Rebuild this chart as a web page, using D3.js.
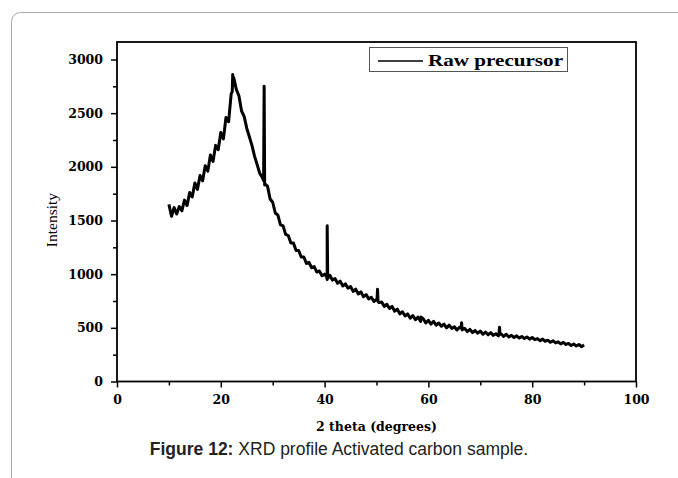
<!DOCTYPE html>
<html>
<head>
<meta charset="utf-8">
<script src="https://cdn.jsdelivr.net/npm/d3@7"></script>
<style>
  body { margin: 0; background: #fff; }
  svg { display: block; }
</style>
</head>
<body>
<svg id="chart" width="678" height="478"></svg>
<script>
// scan grid 10..90 deg, 0.5 deg step
var scanStart = 10, scanStep = 0.5;
var scanIntensity = [
  1650, 1540, 1620, 1560, 1630, 1590, 1690, 1640, 1760, 1720,
  1850, 1790, 1920, 1870, 2010, 1960, 2110, 2050, 2200, 2160,
  2320, 2260, 2460, 2420, 2680, 2830, 2720, 2660, 2520, 2470,
  2360, 2280, 2200, 2100, 2020, 1940, 1900, 1840, 1820, 1700,
  1670, 1570, 1550, 1460, 1450, 1370, 1360, 1290, 1290, 1220,
  1220, 1160, 1160, 1100, 1110, 1060, 1070, 1020, 1030, 985,
  1000, 950, 990, 945, 960, 915, 935, 890, 910, 870,
  885, 840, 860, 815, 835, 790, 810, 770, 785, 745,
  765, 735, 740, 700, 720, 680, 700, 655, 675, 630,
  650, 610, 630, 590, 615, 575, 600, 560, 585, 545,
  570, 535, 560, 525, 545, 515, 535, 500, 525, 495,
  510, 480, 505, 480, 495, 465, 485, 455, 475, 450,
  470, 440, 460, 435, 455, 430, 445, 425, 445, 420,
  440, 415, 430, 410, 425, 405, 420, 400, 415, 395,
  410, 390, 400, 380, 395, 375, 385, 365, 380, 360,
  370, 350, 365, 345, 355, 335, 350, 330, 345, 325,
  340
];

// sharp reflections (angle, intensity)
var peakAngles = [22.2, 22.3, 22.4, 28.25, 28.35, 28.45, 40.4, 40.5, 40.6,
                  50.1, 50.2, 50.3, 58.6, 66.3, 66.4, 66.5, 73.6, 73.7, 73.8];
var peakIntensity = [2700, 2860, 2760, 1870, 2750, 1830, 975, 1450, 960,
                     760, 860, 745, 600, 500, 548, 490, 445, 505, 440];

var xTicks = [0, 20, 40, 60, 80, 100];
var yTicks = [0, 500, 1000, 1500, 2000, 2500, 3000];
var seriesName = "Raw precursor";

var points = scanIntensity.map(function (v, i) {
  return { a: scanStart + i * scanStep, v: v };
});
peakAngles.forEach(function (a, i) {
  points.push({ a: a, v: peakIntensity[i] });
});
points.sort(function (p, q) { return p.a - q.a; });

var svg = d3.select("#chart");
var plotLeft = 117, plotRight = 636, plotTop = 42, plotBottom = 381.5;

var x = d3.scaleLinear().domain([0, 100]).range([plotLeft, plotRight]);
var y = d3.scaleLinear().domain([0, 3000]).range([plotBottom, 59.5]);

// outer page frame
svg.append("rect")
  .attr("x", 11.5).attr("y", 12.5)
  .attr("width", 700).attr("height", 500)
  .attr("rx", 9)
  .attr("fill", "none")
  .attr("stroke", "#a8a8a8")
  .attr("stroke-width", 1);

var tickFont = "'DejaVu Serif', serif";

// minor ticks
svg.append("g")
  .attr("transform", "translate(0," + plotBottom + ")")
  .call(d3.axisBottom(x).tickValues(d3.range(10, 100, 20)).tickSize(4).tickFormat(""))
  .call(function (g) { g.select(".domain").remove(); })
  .selectAll("line").attr("stroke-width", 1.5);
svg.append("g")
  .attr("transform", "translate(" + plotLeft + ",0)")
  .call(d3.axisLeft(y).tickValues(d3.range(250, 3001, 500)).tickSize(4).tickFormat(""))
  .call(function (g) { g.select(".domain").remove(); })
  .selectAll("line").attr("stroke-width", 1.5);

// major axes
var xAxis = svg.append("g")
  .attr("transform", "translate(0," + plotBottom + ")")
  .call(d3.axisBottom(x).tickValues(xTicks).tickSize(6).tickPadding(8).tickFormat(d3.format("d")));
var yAxis = svg.append("g")
  .attr("transform", "translate(" + plotLeft + ",0)")
  .call(d3.axisLeft(y).tickValues(yTicks).tickSize(6).tickPadding(8).tickFormat(d3.format("d")));

[xAxis, yAxis].forEach(function (g) {
  g.select(".domain").remove();
  g.selectAll("line").attr("stroke-width", 1.5);
  g.selectAll("text")
    .attr("font-family", tickFont)
    .attr("font-weight", "bold")
    .attr("font-size", 12.5)
    .attr("fill", "#000");
});

// plot frame
svg.append("rect")
  .attr("x", plotLeft).attr("y", plotTop)
  .attr("width", plotRight - plotLeft).attr("height", plotBottom - plotTop)
  .attr("fill", "none")
  .attr("stroke", "#000")
  .attr("stroke-width", 1.8);

// data line
var line = d3.line()
  .x(function (d) { return x(d.a); })
  .y(function (d) { return y(d.v); });

svg.append("path")
  .datum(points)
  .attr("d", line)
  .attr("fill", "none")
  .attr("stroke", "#000")
  .attr("stroke-width", 3)
  .attr("stroke-linejoin", "round");

// legend
svg.append("rect")
  .attr("x", 369.5).attr("y", 47.5)
  .attr("width", 198).attr("height", 24)
  .attr("fill", "#fff")
  .attr("stroke", "#555")
  .attr("stroke-width", 1);
svg.append("line")
  .attr("x1", 378).attr("x2", 423)
  .attr("y1", 61).attr("y2", 61)
  .attr("stroke", "#000")
  .attr("stroke-width", 1.5);
svg.append("text")
  .attr("x", 428).attr("y", 66)
  .attr("font-family", "'Liberation Serif', serif")
  .attr("font-weight", "bold")
  .attr("font-size", 17)
  .attr("textLength", 135)
  .attr("lengthAdjust", "spacingAndGlyphs")
  .text(seriesName);

// axis titles
svg.append("text")
  .attr("x", 316).attr("y", 431)
  .attr("font-family", tickFont)
  .attr("font-weight", "bold")
  .attr("font-size", 12.5)
  .attr("textLength", 121)
  .attr("lengthAdjust", "spacingAndGlyphs")
  .text("2 theta (degrees)");

svg.append("text")
  .attr("transform", "translate(57,220) rotate(-90)")
  .attr("text-anchor", "middle")
  .attr("font-family", "'Liberation Serif', serif")
  .attr("font-size", 15.5)
  .text("Intensity");

// caption
var cap = svg.append("text")
  .attr("x", 339).attr("y", 455)
  .attr("text-anchor", "middle")
  .attr("font-family", "'Liberation Sans', Arial, sans-serif")
  .attr("font-size", 17.5)
  .attr("fill", "#222");
cap.append("tspan").attr("font-weight", "bold").text("Figure 12:");
cap.append("tspan").text(" XRD profile Activated carbon sample.");
</script>
</body>
</html>
